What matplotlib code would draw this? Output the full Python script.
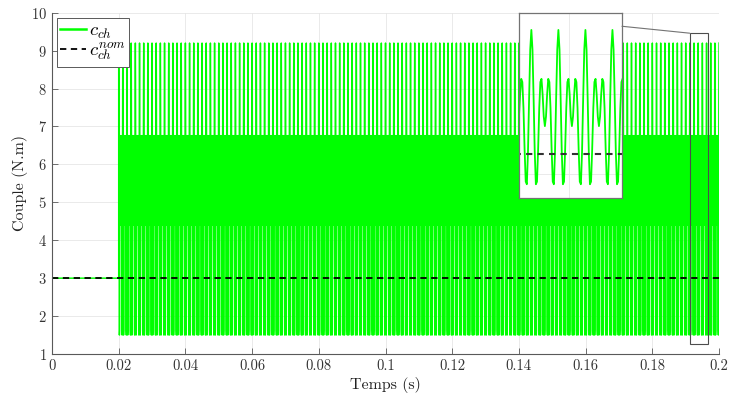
import numpy as np
import matplotlib.pyplot as plt
from matplotlib.patches import Rectangle, ConnectionPatch

plt.rcParams['font.family'] = 'cmr10'
plt.rcParams['mathtext.fontset'] = 'cm'
plt.rcParams['axes.formatter.use_mathtext'] = True

# one period of the load torque (24 samples per period)
period_shape = [9.2, 8.22, 5.78, 3.11, 1.50, 1.63, 3.23, 5.30, 6.60, 6.76, 5.98, 4.88,
                4.40, 4.88, 5.98, 6.76, 6.60, 5.30, 3.23, 1.63, 1.50, 3.11, 5.78, 8.22]
t_step = 0.02      # load torque switches on here
t_end = 0.2
period = 0.00125   # about 16 spikes per 0.02 s
c_before = 3.0     # torque before the step
c_nom = 3.0        # nominal torque

# zoom window shown in the inset
zoom_x = (0.19068, 0.19544)
zoom_y = (0.8, 10.03)
# rectangle drawn on the main axes
rect_x = (0.1912, 0.1967)
rect_y = (1.27, 9.46)

# build the time series
n_per = int(round((t_end - t_step) / period))
spp = len(period_shape)
t_osc = t_step + np.arange(n_per * spp + 1) * period / spp
c_osc = np.append(np.tile(period_shape, n_per), period_shape[0])
t = np.concatenate([[0.0, t_step], t_osc])
c = np.concatenate([[c_before, c_before], c_osc])

green = (0.0, 1.0, 0.0)
axcol = (0.35, 0.35, 0.35)

fig = plt.figure(figsize=(7.30, 4.01), dpi=100)
ax = fig.add_axes([0.0712, 0.1172, 0.9138, 0.8511])

ax.plot(t, c, color=green, lw=1.05, label=r'$c_{ch}$')
ax.plot([0, t_end], [c_nom, c_nom], color='k', ls='--', lw=1.3, dashes=(3.5, 2.5),
        label=r'$c_{ch}^{nom}$')

ax.set_xlim(0, 0.2)
ax.set_ylim(1, 10)
ax.set_xticks(np.arange(0, 0.201, 0.02))
ax.set_xticklabels(['0'] + ['%g' % v for v in np.arange(0.02, 0.201, 0.02)])
ax.set_yticks(range(1, 11))
ax.grid(True, color=(0.9, 0.9, 0.9), lw=0.6)
ax.set_axisbelow(True)
ax.tick_params(direction='in', length=4, width=0.6, colors=axcol, labelcolor='#333333',
               labelsize=10.5)
for s in ['top', 'right']:
    ax.spines[s].set_visible(False)
for s in ['left', 'bottom']:
    ax.spines[s].set_color(axcol)
    ax.spines[s].set_linewidth(0.8)
ax.set_xlabel('Temps (s)', fontsize=11.5, color='#222222', labelpad=3)
ax.set_ylabel('Couple (N.m)', fontsize=11.5, color='#222222', labelpad=2)

leg = ax.legend(loc='upper left', bbox_to_anchor=(0.007, 0.985), fontsize=13.5,
                fancybox=False, framealpha=1, edgecolor=axcol, handlelength=1.35,
                handletextpad=0.15, borderpad=0.2, labelspacing=0.0, borderaxespad=0)
leg.get_frame().set_linewidth(0.7)
leg.get_lines()[0].set_linewidth(1.8)

# zoom rectangle on the main plot
ax.add_patch(Rectangle((rect_x[0], rect_y[0]), rect_x[1] - rect_x[0], rect_y[1] - rect_y[0],
                       fill=False, edgecolor=(0.3, 0.3, 0.3), lw=0.8, zorder=5))

# inset
axins = fig.add_axes([0.711, 0.5055, 0.141, 0.4613])
axins.set_facecolor('white')
axins.plot(t, c, color=green, lw=1.3)
axins.plot([0, t_end], [c_nom, c_nom], color=(0.2, 0.2, 0.2), ls='--', lw=1.5, dashes=(3, 2.5))
axins.set_xlim(*zoom_x)
axins.set_ylim(*zoom_y)
axins.set_xticks([0.193])
axins.set_yticks([2, 4, 6, 8])
axins.grid(True, color=(0.9, 0.9, 0.9), lw=0.6)
axins.set_axisbelow(True)
axins.tick_params(length=0, labelbottom=False, labelleft=False)
for s in axins.spines.values():
    s.set_color((0.45, 0.45, 0.45))
    s.set_linewidth(0.9)

con = ConnectionPatch(xyA=(1, 0.93), coordsA=axins.transAxes,
                      xyB=(rect_x[0], rect_y[1]), coordsB=ax.transData,
                      color=(0.45, 0.45, 0.45), lw=0.8)
fig.add_artist(con)

fig.savefig('out.png', dpi=100)
